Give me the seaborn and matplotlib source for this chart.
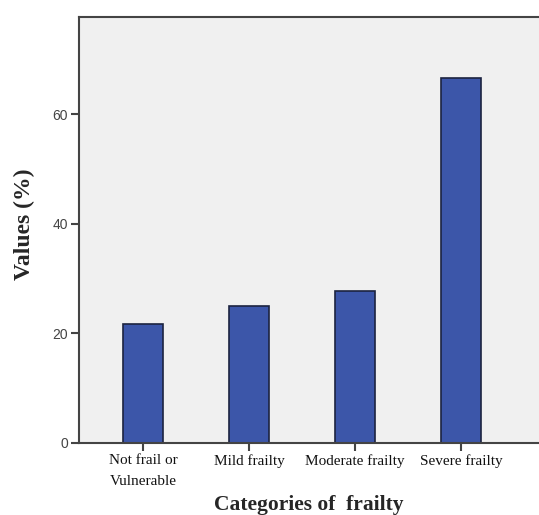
import matplotlib
matplotlib.use("Agg")
import matplotlib.pyplot as plt
import seaborn as sns
import pandas as pd

categories = ["Not frail or\nVulnerable", "Mild frailty", "Moderate frailty", "Severe frailty"]
values = [21.7, 25.0, 27.7, 66.7]
yticks = [0, 20, 40, 60]

df = pd.DataFrame({"cat": categories, "val": values})

sns.set_style("ticks")
fig = plt.figure(figsize=(5.39, 5.15), dpi=100)
ax = fig.add_axes([79/539, 72/515, 460/539, 426/515])
ax.set_facecolor("#f0f0f0")

sns.barplot(data=df, x="cat", y="val", ax=ax, color="#3c56a9", width=0.375,
            edgecolor="#1c2340", linewidth=1.2, saturation=1)

ax.set_xlim(-0.604, 3.736)
ax.set_ylim(0, 77.8)
ax.set_yticks(yticks)
ax.set_yticklabels([str(t) for t in yticks], fontfamily="Liberation Sans", fontsize=10, color="#444444")
ax.set_xticks(range(len(categories)))
ax.set_xticklabels(categories, fontfamily="Liberation Serif", fontsize=11, color="#111111", linespacing=1.75)

ax.tick_params(axis="both", direction="out", length=6, width=1.5, color="#444444", pad=2)
for s in ["left", "bottom", "top"]:
    ax.spines[s].set_color("#444444")
    ax.spines[s].set_linewidth(1.5)
ax.spines["right"].set_visible(False)

ax.set_xlabel("Categories of  frailty", fontfamily="Liberation Serif", fontweight="bold", fontsize=15.5, labelpad=5)
ax.set_ylabel("Values (%)", fontfamily="Liberation Serif", fontweight="bold", fontsize=17)
ax.yaxis.set_label_coords(-0.095, 0.514)

fig.savefig("out.png", dpi=100)
